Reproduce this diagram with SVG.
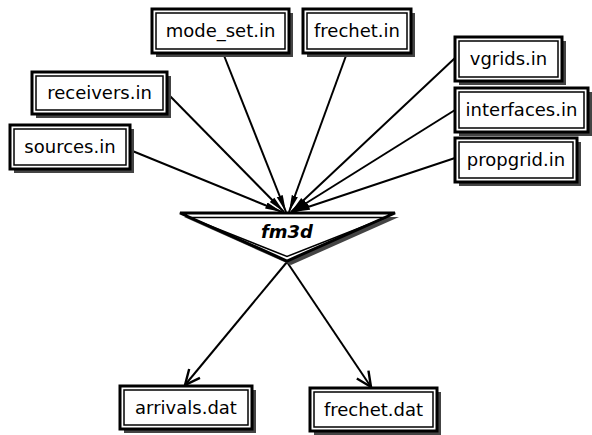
<svg xmlns="http://www.w3.org/2000/svg" width="592" height="435" viewBox="0 0 592 435">
<style>
.sh{fill:#444;stroke:none}
.ob{fill:#fff;stroke:#000;stroke-width:3}
.ib{fill:none;stroke:#000;stroke-width:1.5}
.t{font-family:"DejaVu Sans",sans-serif;font-size:18px;fill:#000;text-anchor:middle}
.tb{font-family:"DejaVu Sans",sans-serif;font-size:18px;font-weight:bold;font-style:italic;fill:#000;text-anchor:middle}
.e{stroke:#000;stroke-width:2;fill:none}
</style>
<defs>
<marker id="ah" markerUnits="userSpaceOnUse" markerWidth="18" markerHeight="8" refX="17" refY="4" orient="auto">
<path d="M0,0.8 L17,4 L0,7.2 z" fill="#000"/>
</marker>
<marker id="vee" markerUnits="userSpaceOnUse" markerWidth="20" markerHeight="18" refX="16" refY="9" orient="auto">
<path d="M1,2 L16,9 L1,16" fill="none" stroke="#000" stroke-width="2.4"/>
</marker>
</defs>
<g id="edges">
<line class="e" x1="130" y1="150" x2="282" y2="212" marker-end="url(#ah)"/>
<line class="e" x1="167" y1="93" x2="284" y2="212" marker-end="url(#ah)"/>
<line class="e" x1="223" y1="53" x2="286" y2="212" marker-end="url(#ah)"/>
<line class="e" x1="347" y1="53" x2="289" y2="212" marker-end="url(#ah)"/>
<line class="e" x1="455" y1="58" x2="291" y2="212" marker-end="url(#ah)"/>
<line class="e" x1="455" y1="110" x2="292" y2="212" marker-end="url(#ah)"/>
<line class="e" x1="455" y1="158" x2="293" y2="212" marker-end="url(#ah)"/>
<line class="e" x1="287" y1="262" x2="185" y2="385" marker-end="url(#vee)"/>
<line class="e" x1="287" y1="262" x2="371" y2="387" marker-end="url(#vee)"/>
</g>
<g id="fm3d">
<polygon class="sh" points="184,217 399,217 291,265"/>
<polygon class="ob" points="180,213 395,213 287,261"/>
<polygon class="ib" points="189,217.5 386,217.5 287,256.5"/>
<text class="tb" x="287" y="238">fm3d</text>
</g>
<g id="mode_set">
<rect class="sh" x="156" y="13" width="137" height="44"/>
<rect class="ob" x="152" y="9" width="137" height="44"/>
<rect class="ib" x="156" y="13" width="129" height="36"/>
<text class="t" x="220.5" y="37">mode_set.in</text>
</g>
<g id="frechet_in">
<rect class="sh" x="307" y="13" width="108" height="44"/>
<rect class="ob" x="303" y="9" width="108" height="44"/>
<rect class="ib" x="307" y="13" width="100" height="36"/>
<text class="t" x="357" y="37">frechet.in</text>
</g>
<g id="receivers">
<rect class="sh" x="36" y="76" width="135" height="42"/>
<rect class="ob" x="32" y="72" width="135" height="42"/>
<rect class="ib" x="36" y="76" width="127" height="34"/>
<text class="t" x="99.5" y="99">receivers.in</text>
</g>
<g id="sources">
<rect class="sh" x="14" y="129" width="120" height="44"/>
<rect class="ob" x="10" y="125" width="120" height="44"/>
<rect class="ib" x="14" y="129" width="112" height="36"/>
<text class="t" x="70" y="153">sources.in</text>
</g>
<g id="vgrids">
<rect class="sh" x="459" y="41" width="107" height="44"/>
<rect class="ob" x="455" y="37" width="107" height="44"/>
<rect class="ib" x="459" y="41" width="99" height="36"/>
<text class="t" x="508.5" y="65">vgrids.in</text>
</g>
<g id="interfaces">
<rect class="sh" x="459" y="92" width="133" height="44"/>
<rect class="ob" x="455" y="88" width="133" height="44"/>
<rect class="ib" x="459" y="92" width="125" height="36"/>
<text class="t" x="521.5" y="116">interfaces.in</text>
</g>
<g id="propgrid">
<rect class="sh" x="459" y="142" width="122" height="44"/>
<rect class="ob" x="455" y="138" width="122" height="44"/>
<rect class="ib" x="459" y="142" width="114" height="36"/>
<text class="t" x="516" y="166">propgrid.in</text>
</g>
<g id="arrivals">
<rect class="sh" x="124" y="390" width="132" height="43"/>
<rect class="ob" x="120" y="386" width="132" height="43"/>
<rect class="ib" x="124" y="390" width="124" height="35"/>
<text class="t" x="186" y="414">arrivals.dat</text>
</g>
<g id="frechet_dat">
<rect class="sh" x="314" y="392" width="127" height="43"/>
<rect class="ob" x="310" y="388" width="127" height="43"/>
<rect class="ib" x="314" y="392" width="119" height="35"/>
<text class="t" x="373.5" y="416">frechet.dat</text>
</g>
</svg>
